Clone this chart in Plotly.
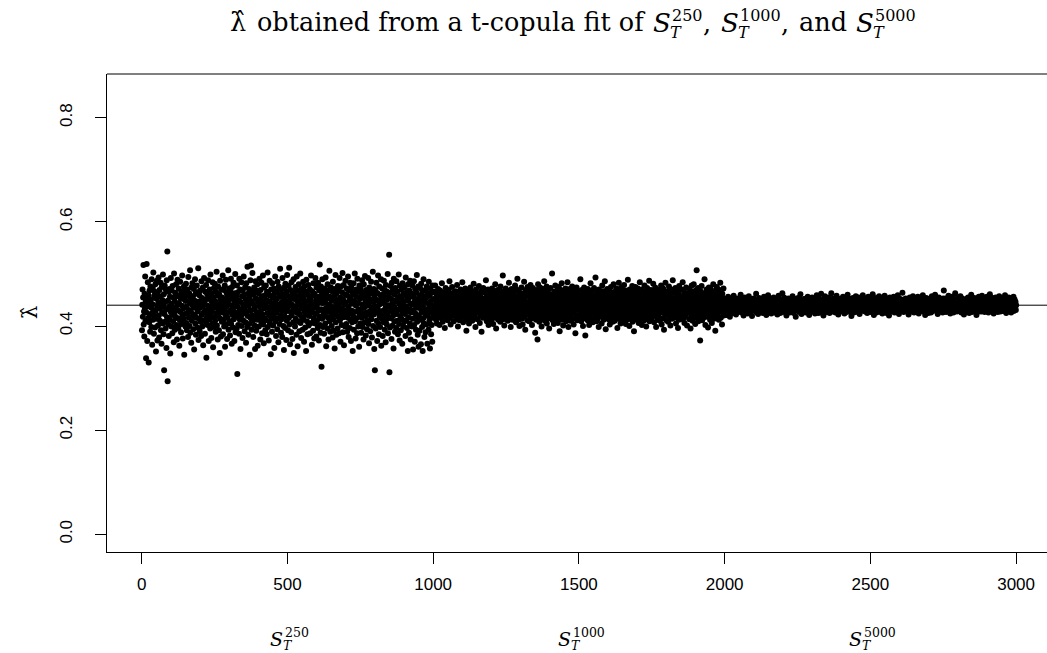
import plotly.graph_objects as go

# ---------------- data (lambda-hat estimates, in thousandths) ----------------
lam_s250_milli = [
392,441,470,418,455,517,403,428,380,462,433,495,409,447,338,426,519,452,371,438,484,415,459,330,444,
407,468,421,389,476,436,451,398,490,425,364,442,473,412,503,431,385,458,419,466,397,480,429,351,453,
414,487,439,372,462,401,445,493,420,378,469,434,410,456,483,392,441,366,475,427,450,405,499,438,384,
461,315,423,478,408,446,395,470,432,358,488,417,543,294,449,403,466,381,437,471,412,456,347,428,492,
443,399,468,421,386,477,433,409,455,369,501,426,448,393,464,418,436,480,402,457,374,441,489,415,430,
396,472,444,362,459,411,485,427,453,388,467,404,439,497,420,376,460,434,413,476,345,451,423,466,399,
448,481,406,437,392,470,425,458,379,494,431,416,463,400,445,507,387,454,428,368,474,410,441,482,419,
457,394,436,471,355,449,422,490,405,462,383,440,416,478,432,397,465,428,511,373,447,414,459,390,435,
468,408,443,381,486,421,454,399,437,474,363,450,426,492,411,446,385,466,430,407,479,339,452,418,461,
402,439,488,424,371,457,413,470,433,395,499,420,449,377,463,428,405,484,442,359,455,417,473,398,436,
481,410,447,389,466,425,504,401,458,435,374,476,419,442,392,461,429,348,487,414,451,380,470,437,408,
455,426,497,384,443,412,469,399,432,478,360,450,421,489,403,464,438,375,459,416,445,507,393,427,472,
409,452,382,467,430,491,404,440,366,475,422,458,397,434,483,413,449,371,463,426,500,388,444,418,456,
395,478,308,437,465,402,449,423,385,491,430,412,470,356,446,419,484,400,457,433,377,468,411,441,495,
424,460,390,436,475,407,451,368,482,428,445,398,514,419,462,383,439,471,404,455,345,430,488,415,516,
448,393,467,421,502,410,443,379,460,432,474,401,437,356,486,418,453,391,468,427,412,480,362,446,424,
463,399,438,491,417,452,374,469,429,408,483,441,386,457,422,497,403,446,367,474,434,415,459,392,440,
478,411,450,384,466,425,503,398,436,461,372,447,420,487,405,458,431,346,470,414,444,389,482,427,455,
401,439,472,418,358,463,434,495,409,448,381,467,426,453,394,485,415,441,369,476,432,460,404,437,510,
421,456,387,470,413,446,379,492,430,461,400,438,354,474,419,452,396,481,428,444,373,466,410,498,435,
458,392,443,477,416,512,403,449,365,469,427,454,388,484,420,441,375,463,436,407,490,348,452,429,466,
399,437,475,414,456,383,495,425,447,361,468,431,408,480,442,390,459,422,501,406,450,377,471,433,416,
464,393,440,485,412,455,370,476,428,445,397,466,421,352,489,434,409,461,384,448,424,479,401,438,457,
419,470,386,452,431,497,406,443,364,467,426,458,391,482,415,440,376,462,435,405,492,423,449,380,474,
437,411,456,396,483,429,445,372,468,418,518,402,451,387,476,432,322,460,414,490,444,398,466,425,453,
385,472,420,446,405,493,434,361,462,427,453,395,480,416,441,374,469,430,506,409,456,389,438,474,421,
448,400,467,428,378,485,413,452,391,471,436,357,459,422,498,407,443,383,464,429,450,395,477,418,440,
469,386,434,492,411,455,370,476,425,446,402,465,433,502,388,451,417,479,363,442,427,461,399,487,420,
445,404,472,431,389,458,416,495,437,379,468,424,449,396,483,412,454,371,475,430,443,407,466,352,460,
418,482,393,448,427,501,409,463,376,439,470,415,456,386,491,428,444,399,467,432,360,478,421,452,405,
473,430,387,459,416,488,441,398,465,423,374,480,435,454,407,496,419,447,382,469,426,461,394,439,411,
457,492,404,443,367,474,428,451,390,466,420,485,413,436,378,462,431,504,400,446,422,471,356,455,315,
438,468,395,426,483,410,450,371,463,433,497,405,447,384,476,419,442,398,459,425,490,362,453,414,472,
429,381,461,444,407,487,421,455,393,468,434,369,479,412,450,403,466,427,500,386,440,418,458,537,311,
464,397,436,477,415,452,375,483,428,444,401,469,420,357,491,437,409,460,389,473,432,449,396,486,423,
447,410,466,384,455,431,499,404,442,372,478,419,457,392,436,470,413,451,366,482,427,445,399,463,435,
408,474,423,458,381,493,438,411,464,396,449,428,352,480,417,453,387,468,432,405,487,443,374,459,426,
462,399,441,478,414,355,456,430,486,402,447,370,471,424,439,393,465,418,498,408,452,383,435,476,360,
420,459,391,444,473,412,434,365,481,427,450,398,467,352,438,415,490,405,457,379,446,424,469,388,431,
455,403,476,429,366,462,419,444,393,485,436,410,458,357,472,426,448,384,464,402,440,370,478,416,433,
]

lam_s1000_milli = [
452,431,418,466,440,425,478,437,449,412,461,433,405,456,444,428,471,439,419,458,447,402,435,468,426,
443,459,415,437,482,429,451,408,446,434,464,421,440,455,396,448,430,473,417,442,457,425,438,462,411,
449,434,469,423,444,486,416,452,438,403,460,431,445,419,475,437,453,427,441,464,409,448,433,456,420,
439,467,426,451,414,443,479,432,458,399,446,422,462,436,411,454,440,428,470,418,447,435,459,424,484,
431,450,407,442,465,427,454,438,415,472,444,421,456,391,448,433,468,412,441,460,429,452,405,437,463,
445,419,474,432,451,426,458,440,410,466,436,449,417,481,430,443,462,423,455,398,438,470,414,447,429,
457,435,413,461,442,425,477,430,450,406,463,437,421,455,444,389,468,428,452,439,416,473,433,446,422,
440,464,418,453,431,488,427,446,409,459,436,420,470,443,402,456,432,449,415,467,438,425,461,411,451,
434,472,421,447,457,404,441,429,465,416,452,438,480,425,443,395,460,433,450,418,469,440,412,454,428,
446,423,462,437,408,476,431,452,419,445,466,426,439,497,413,458,434,447,401,463,429,451,416,472,436,
455,420,441,468,432,410,459,444,427,483,437,415,452,430,464,398,448,424,471,439,456,412,443,467,426,
438,461,417,449,433,478,422,454,407,445,470,428,440,491,419,457,435,412,466,443,400,451,430,463,421,
447,432,474,414,456,439,403,462,426,448,437,485,418,453,441,393,469,429,446,422,460,436,411,475,442,
425,458,436,409,467,444,420,452,479,431,414,461,438,402,449,427,473,435,457,416,443,466,424,450,387,
454,433,412,469,440,426,457,374,445,480,421,437,462,408,451,430,474,417,446,434,465,399,441,458,423,
439,471,416,452,428,486,435,410,463,444,420,457,431,476,405,448,437,414,468,426,453,442,395,461,432,
449,418,473,436,455,423,443,501,429,411,460,438,447,404,466,433,452,419,478,441,427,457,413,445,468,
430,462,406,451,437,475,422,446,390,458,434,416,469,440,428,482,412,454,436,447,401,463,425,450,439,
457,420,444,472,431,409,466,438,453,415,484,427,443,398,460,435,448,422,471,410,455,439,417,464,429,
442,476,413,450,434,461,403,447,425,469,437,452,386,458,431,419,474,440,456,411,444,432,467,421,451,
436,463,418,447,490,428,453,409,441,469,424,457,433,400,461,438,415,474,446,427,452,382,443,466,430,
448,420,458,437,411,471,444,429,456,402,464,435,449,417,482,440,426,459,413,445,468,432,407,454,439,
425,473,442,416,451,436,493,421,460,438,409,447,430,465,414,455,443,398,470,428,446,434,461,419,450,
437,458,405,444,478,431,452,422,467,412,440,456,427,486,435,448,394,463,432,454,418,471,441,425,459,
446,413,469,434,450,403,461,439,426,475,444,418,457,431,464,408,452,437,480,422,448,435,410,466,442,
429,455,419,472,438,445,396,460,427,451,414,483,436,448,423,467,440,405,458,432,474,415,446,453,426,
463,437,411,449,479,430,456,421,442,468,404,451,435,419,462,444,428,489,413,447,439,458,400,470,433,
450,424,466,441,416,457,432,477,408,445,461,427,453,390,469,436,448,418,475,430,455,412,443,464,421,
439,472,428,452,406,463,440,420,484,434,447,414,458,431,470,402,454,437,425,467,445,410,460,433,478,
418,449,436,465,427,399,456,442,473,413,451,430,462,421,444,487,409,458,434,448,423,469,438,415,455,
441,466,422,450,481,429,445,407,463,437,419,474,432,453,398,460,443,426,470,412,447,435,459,417,452,
433,468,410,455,440,426,478,445,403,461,430,449,415,472,438,456,393,464,427,446,421,483,436,451,411,
458,425,444,467,432,408,453,440,476,419,448,434,462,401,457,428,470,443,414,451,437,488,422,446,430,
465,416,441,454,427,473,436,405,460,445,420,468,431,450,396,463,439,412,477,433,448,424,457,442,418,
452,435,470,421,446,484,413,458,430,439,466,406,449,425,461,443,418,474,436,455,401,462,428,447,438,
426,459,444,413,471,432,450,395,464,437,420,478,441,453,410,466,429,445,480,417,456,434,463,404,448,
436,469,422,507,443,415,458,431,473,409,451,438,462,425,446,372,467,433,454,419,477,440,411,459,427,
445,416,463,437,452,490,424,448,402,461,434,418,470,441,456,429,465,397,450,436,474,421,447,458,412,
438,471,428,444,459,406,466,432,453,420,480,439,414,462,447,425,455,391,468,434,449,417,475,442,430,
457,423,446,470,412,451,437,464,428,483,441,416,458,433,447,403,462,429,454,439,472,420,444,450,436,
]

lam_s5000_milli = [
441,433,452,427,446,438,421,449,435,444,430,456,439,426,447,436,443,418,451,437,429,445,440,433,454,
438,447,425,442,436,458,431,444,439,428,450,434,441,422,448,437,432,453,440,427,446,435,443,430,449,
436,445,431,440,460,433,447,426,442,438,451,429,444,437,420,448,434,441,455,432,439,446,428,443,435,
450,437,442,424,446,433,439,457,430,444,436,449,427,441,438,452,434,445,419,440,447,431,443,436,453,
432,448,439,429,445,441,434,462,437,426,450,443,435,440,423,447,438,454,431,444,436,429,449,442,437,
445,430,451,438,443,425,440,447,433,456,436,442,428,448,439,434,452,421,444,437,446,431,441,459,435,
440,449,427,443,436,453,432,445,438,424,447,441,435,450,429,442,437,455,433,446,439,426,448,434,444,
437,452,431,446,440,422,448,435,443,458,430,441,447,434,439,425,451,438,444,432,449,436,463,428,442,
446,433,440,455,427,444,437,449,431,442,436,420,450,439,445,432,447,429,453,438,435,443,426,448,441,
434,447,439,428,451,436,444,457,433,440,446,425,442,437,452,431,445,439,418,448,435,441,450,430,443,
438,454,432,445,440,427,449,436,443,461,434,441,447,423,450,437,444,431,446,439,428,452,435,442,437,
448,433,441,426,453,438,445,432,440,456,429,446,436,443,421,449,437,434,451,440,447,430,444,438,455,
431,445,439,450,428,442,436,447,433,424,452,440,437,448,434,459,430,443,438,446,425,441,454,436,444,
439,426,449,435,443,462,432,446,440,429,451,437,442,420,448,436,444,433,457,439,431,447,438,445,427,
452,436,441,430,447,439,455,434,443,425,450,438,444,432,449,463,436,441,428,446,440,435,453,431,442,
437,448,433,444,426,451,439,436,458,430,445,441,434,447,422,443,438,452,432,440,449,428,446,437,441,
444,431,450,438,442,456,429,447,436,440,424,453,435,445,439,433,448,427,451,442,437,460,430,446,439,
435,449,440,428,446,437,452,433,443,419,448,439,445,431,454,436,441,426,450,438,444,432,447,440,457,
442,430,448,436,451,427,444,439,433,455,437,446,423,449,440,435,452,429,443,438,447,434,441,459,436,
449,437,432,445,440,453,428,443,436,447,430,451,438,425,446,441,434,456,439,444,431,448,437,442,427,
440,452,435,446,429,443,438,461,433,447,436,421,450,441,437,448,432,445,439,454,426,444,440,436,449,
434,445,441,430,457,438,447,433,442,427,452,439,444,436,449,424,446,440,435,451,431,443,438,458,437,
446,432,450,439,425,444,437,453,430,441,448,435,443,420,447,438,455,433,440,445,428,451,436,442,439,
431,448,438,443,456,434,441,426,449,437,444,432,452,440,436,447,429,442,459,435,446,439,423,450,441,
443,436,452,429,447,440,434,449,438,464,432,445,441,427,450,437,444,433,448,436,453,430,442,439,446,
437,451,433,444,439,422,448,441,435,455,430,446,438,443,428,450,436,442,447,432,457,440,434,445,426,
448,434,441,453,430,445,438,427,450,436,443,440,456,432,447,424,442,437,451,435,444,439,429,449,441,
436,446,431,440,459,437,443,428,452,439,434,448,421,445,441,433,454,438,442,430,447,436,450,425,443,
440,452,437,445,432,449,441,426,444,438,457,434,447,439,429,451,436,443,431,446,440,460,433,448,437,
445,431,450,438,443,423,448,436,441,455,434,446,440,428,452,437,444,432,449,439,435,447,426,442,453,
438,468,434,449,441,430,446,437,453,427,444,440,435,451,432,447,439,458,429,443,436,450,441,424,446,
433,448,440,444,456,431,442,437,449,426,452,438,445,434,441,463,430,447,439,436,451,428,443,440,454,
441,435,447,429,450,439,444,432,457,437,442,426,448,436,453,440,431,446,438,443,422,449,435,445,440,
447,430,443,452,436,441,428,449,438,455,433,444,440,425,451,437,446,432,448,442,460,435,439,427,450,
436,445,432,448,441,437,454,429,443,439,450,434,446,421,452,438,444,431,447,440,435,456,428,442,449,
443,437,451,433,446,428,440,458,435,445,439,431,448,442,436,453,427,444,438,450,434,441,447,430,456,
439,449,434,442,426,452,440,445,437,461,432,447,441,435,450,429,443,438,454,433,446,440,424,451,437,
445,432,448,440,455,436,443,430,449,438,442,427,452,435,446,441,457,433,439,444,428,450,437,447,434,
441,453,436,445,429,448,439,433,451,442,437,459,431,446,440,425,449,438,444,432,452,436,447,441,455,
437,444,430,450,442,435,447,426,453,439,443,433,449,440,436,456,429,445,438,451,434,442,446,431,440,
]

reference_level = 0.44
x_ticks = [0, 500, 1000, 1500, 2000, 2500, 3000]
y_ticks = [0.0, 0.2, 0.4, 0.6, 0.8]
segment_labels = ["250", "1000", "5000"]
segment_centers = [500, 1500, 2500]

# ---------------- build series ----------------
all_milli = lam_s250_milli + lam_s1000_milli + lam_s5000_milli
xs = list(range(1, len(all_milli) + 1))
ys = [v / 1000 for v in all_milli]

W, H = 1047, 653
L, R, T, B = 107, 0, 74, 101
PW, PH = W - L - R, H - T - B

def px(p):
    return (p - L) / PW

def py(p):
    return (H - B - p) / PH

fig = go.Figure()
fig.add_trace(go.Scatter(
    x=xs, y=ys, mode="markers",
    marker=dict(color="black", size=6, line=dict(width=0)),
    hoverinfo="skip", showlegend=False,
))

SERIF = "DejaVu Serif, Liberation Serif, serif"
SANS = "Liberation Sans, Arial, sans-serif"

shapes = [
    dict(type="line", xref="paper", yref="y", x0=0, x1=1, y0=reference_level, y1=reference_level,
         line=dict(color="black", width=1)),
    dict(type="line", xref="paper", yref="paper", x0=0, x1=1, y0=1, y1=1,
         line=dict(color="black", width=1)),
]

annotations = []

def txt(text, x, y, size, xanchor="left", xref="paper", xshift=0, angle=0, yanchor="middle"):
    annotations.append(dict(text=text, x=x, y=y, xref=xref, yref="paper",
                            xanchor=xanchor, yanchor=yanchor, xshift=xshift, textangle=angle,
                            showarrow=False, font=dict(family=SERIF, size=size, color="black")))

# bottom segment labels  S_T^{n}
for lab, cx in zip(segment_labels, segment_centers):
    width = 15 + len(lab) * 7.9
    txt("<i>S</i>", cx, py(639), 19, xref="x", xshift=-width / 2)
    txt(lab, cx, py(632.5), 12.5, xref="x", xshift=-width / 2 + 15)
    txt("<i>T</i>", cx, py(645.5), 12.5, xref="x", xshift=-width / 2 + 13)

# title pieces
ty = 22
txt("λ̂", px(228), py(ty), 25.5)
txt("obtained from a t-copula fit of", px(255), py(ty), 25.5)
title_groups = [(651, "250", ",", 701), (719, "1000", ",", 779), (854, "5000", "", 0)]
for sx, lab, punct, punx in title_groups:
    txt("<i>S</i>", px(sx), py(ty + 1), 26)
    txt(lab, px(sx + 19), py(ty - 6), 16)
    txt("<i>T</i>", px(sx + 17), py(ty + 10), 16)
    if punct:
        txt(punct, px(punx), py(ty + 1), 25.5)
txt("and", px(797), py(ty), 25.5)

# y-axis title
txt("λ̂", px(30), py(313), 21, xanchor="center", angle=-90)

fig.update_layout(
    width=W, height=H,
    margin=dict(l=L, r=R, t=T, b=B, pad=0),
    plot_bgcolor="white", paper_bgcolor="white",
    shapes=shapes, annotations=annotations,
    showlegend=False,
)
fig.update_xaxes(
    range=[-119, 3106], tickvals=x_ticks, ticktext=[str(v) for v in x_ticks],
    showgrid=False, zeroline=False, showline=True, linecolor="black", linewidth=1,
    ticks="outside", ticklen=11, tickcolor="black", tickwidth=1,
    tickfont=dict(family=SANS, size=17, color="black"), ticklabelstandoff=6,
)
fig.update_yaxes(
    range=[-0.034, 0.884], tickvals=y_ticks, ticktext=[f"{v:.1f}" for v in y_ticks],
    showgrid=False, zeroline=False, showline=True, linecolor="black", linewidth=1,
    ticks="outside", ticklen=11, tickcolor="black", tickwidth=1, tickangle=-90,
    tickfont=dict(family=SANS, size=17, color="black"), ticklabelstandoff=16,
)

fig.write_html("out.html")
